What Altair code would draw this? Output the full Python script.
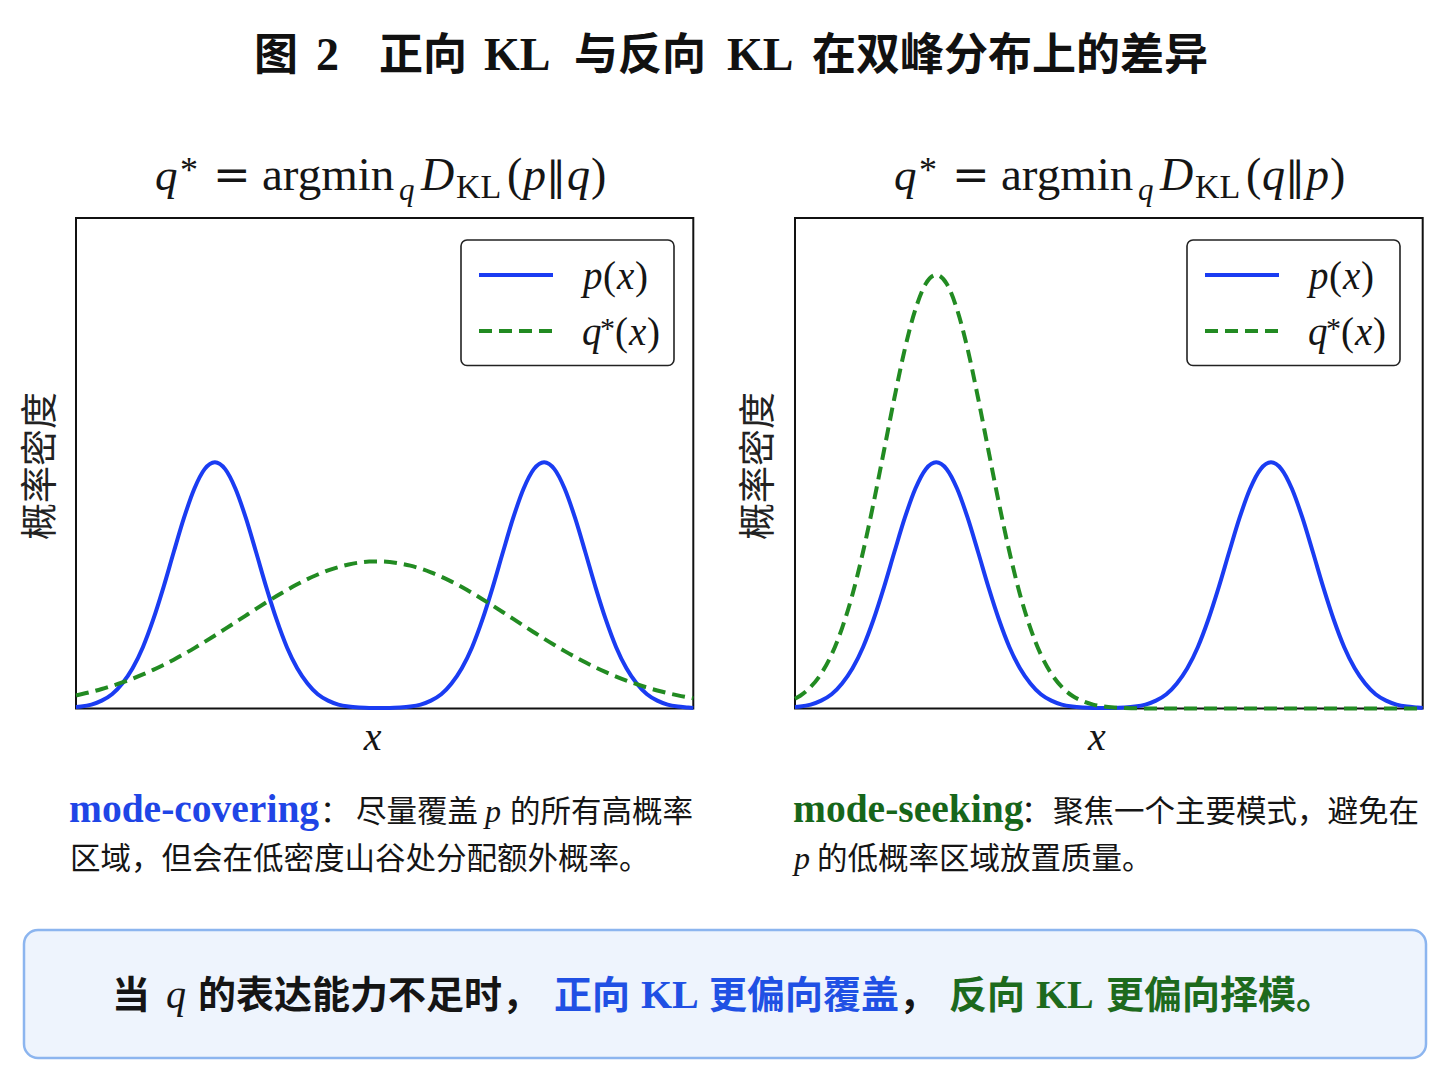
import altair as alt
import pandas as pd

# ---------------- data ----------------
x_grid = [-5.9, -5.8, -5.6, -5.4, -5.2, -5.0, -4.8, -4.6, -4.4, -4.2,
          -4.0, -3.8, -3.6, -3.4, -3.2, -3.0, -2.8, -2.6, -2.4, -2.2,
          -2.0, -1.8, -1.6, -1.4, -1.2, -1.0, -0.8, -0.6, -0.4, -0.2,
          0.0, 0.2, 0.4, 0.6, 0.8, 1.0, 1.2, 1.4, 1.6, 1.8,
          2.0, 2.2, 2.4, 2.6, 2.8, 3.0, 3.2, 3.4, 3.6, 3.8,
          4.0, 4.2, 4.4, 4.6, 4.8, 5.0, 5.2, 5.4, 5.6, 5.8,
          6.0, 6.1]

# bimodal target p(x)
p_density = [0.003, 0.004, 0.008, 0.016, 0.029, 0.051, 0.082, 0.125, 0.181, 0.247,
             0.319, 0.389, 0.448, 0.488, 0.502, 0.488, 0.448, 0.389, 0.319, 0.247,
             0.181, 0.125, 0.082, 0.051, 0.029, 0.016, 0.008, 0.004, 0.002, 0.001,
             0.001, 0.001, 0.002, 0.004, 0.008, 0.016, 0.029, 0.051, 0.082, 0.125,
             0.181, 0.247, 0.319, 0.389, 0.448, 0.488, 0.502, 0.488, 0.448, 0.389,
             0.319, 0.247, 0.181, 0.125, 0.082, 0.051, 0.029, 0.016, 0.008, 0.004,
             0.002, 0.001]

# forward KL fit (mode-covering)
q_forward = [0.0267, 0.0290, 0.0340, 0.0397, 0.0461, 0.0531, 0.0609, 0.0695, 0.0788, 0.0888,
             0.0996, 0.1111, 0.1231, 0.1358, 0.1488, 0.1622, 0.1758, 0.1895, 0.2031, 0.2164,
             0.2293, 0.2416, 0.2531, 0.2638, 0.2732, 0.2815, 0.2883, 0.2937, 0.2974, 0.2995,
             0.2999, 0.2987, 0.2957, 0.2912, 0.2851, 0.2775, 0.2686, 0.2586, 0.2475, 0.2355,
             0.2229, 0.2098, 0.1963, 0.1826, 0.1690, 0.1555, 0.1422, 0.1294, 0.1170, 0.1053,
             0.0941, 0.0837, 0.0740, 0.0651, 0.0569, 0.0495, 0.0428, 0.0368, 0.0314, 0.0267,
             0.0226, 0.0207]

# reverse KL fit (mode-seeking)
q_reverse = [0.020, 0.026, 0.044, 0.071, 0.110, 0.164, 0.233, 0.319, 0.418, 0.525,
             0.633, 0.733, 0.813, 0.866, 0.884, 0.866, 0.813, 0.733, 0.633, 0.525,
             0.418, 0.319, 0.233, 0.164, 0.110, 0.071, 0.044, 0.026, 0.015, 0.008,
             0.004, 0.002, 0.001, 0.0005, 0.0, 0.0, 0.0, 0.0, 0.0, 0.0,
             0.0, 0.0, 0.0, 0.0, 0.0, 0.0, 0.0, 0.0, 0.0, 0.0,
             0.0, 0.0, 0.0, 0.0, 0.0, 0.0, 0.0, 0.0, 0.0, 0.0,
             0.0, 0.0]

title_parts = ["图", "2", "正向", "KL", "与反向", "KL", "在双峰分布上的差异"]
y_label = "概率密度"
x_label = "x"
cap_left_key = "mode-covering"
cap_left_1 = ["：", "尽量覆盖", "p", "的所有高概率"]
cap_left_2 = "区域，但会在低密度山谷处分配额外概率。"
cap_right_key = "mode-seeking"
cap_right_1 = ["：", "聚焦一个主要模式，避免在"]
cap_right_2 = ["p", "的低概率区域放置质量。"]
box_parts = ["当", "q", "的表达能力不足时，", "正向", "KL", "更偏向覆盖", "，", "反向", "KL", "更偏向择模。"]

# ---------------- styles ----------------
BLUE = "#1a3cf2"
GREEN = "#228b22"
CAP_BLUE = "#1f45e6"
CAP_GREEN = "#17661a"
TXT = "#151515"
CJK = "Noto Sans CJK SC"
SERIF = "Liberation Serif"
SYM = "DejaVu Serif"
OFF = 8  # page margin
LW = 4.0

one = pd.DataFrame({"a": [1]})


def T(text, x, y, size, font=SERIF, weight="normal", style="normal", color=TXT,
      align="left", baseline="alphabetic", angle=0):
    return alt.Chart(one).mark_text(
        text=text, font=font, fontSize=size, fontWeight=weight, fontStyle=style,
        color=color, align=align, baseline=baseline, angle=angle
    ).encode(x=alt.value(x - OFF), y=alt.value(y - OFF))


def frame(x0, y0, x1, y1, **kw):
    return alt.Chart(one).mark_rect(**kw).encode(
        x=alt.value(x0 - OFF), x2=alt.value(x1 - OFF),
        y=alt.value(y0 - OFF), y2=alt.value(y1 - OFF))


def hline(x0, x1, y, **kw):
    return alt.Chart(one).mark_rule(**kw).encode(
        x=alt.value(x0 - OFF), x2=alt.value(x1 - OFF), y=alt.value(y - OFF))


layers = []

# ---------------- title ----------------
tx = [254, 316, 379, 484, 574, 727, 812]
for part, x in zip(title_parts, tx):
    if part in ("2", "KL"):
        layers.append(T(part, x, 70, 46, font=SERIF, weight="bold", color="#111"))
    else:
        layers.append(T(part, x, 70, 44, font=CJK, weight="bold", color="#111"))

# ---------------- panel geometry (page px) ----------------
panels = [
    dict(x0=76, x1=693.3, q=q_forward, sub1="p", sub2="q"),
    dict(x0=795, x1=1422.7, q=q_reverse, sub1="q", sub2="p"),
]
PY0, PY1 = 218, 708.5

for i, pn in enumerate(panels):
    df = pd.DataFrame({"x": x_grid, "p": p_density, "q": pn["q"]})
    xs = alt.Scale(domain=[-5.9, 6.1], range=[pn["x0"] - OFF, pn["x1"] - OFF])
    ys = alt.Scale(domain=[0, 1], range=[PY1 - OFF, PY0 - OFF])

    layers.append(frame(pn["x0"], PY0, pn["x1"], PY1, fill="white", fillOpacity=0,
                        stroke="#111", strokeWidth=2))
    layers.append(alt.Chart(df).mark_line(color=BLUE, strokeWidth=LW, interpolate="monotone")
                  .encode(x=alt.X("x:Q", scale=xs, axis=None),
                          y=alt.Y("p:Q", scale=ys, axis=None)))
    layers.append(alt.Chart(df).mark_line(color=GREEN, strokeWidth=LW, strokeDash=[13, 7],
                                          interpolate="monotone")
                  .encode(x=alt.X("x:Q", scale=xs, axis=None),
                          y=alt.Y("q:Q", scale=ys, axis=None)))

    dx = 0 if i == 0 else 726
    # legend
    layers.append(frame(461 + dx, 240, 674 + dx, 365.5, fill="white", stroke="#222",
                        strokeWidth=1.6, cornerRadius=6))
    layers.append(hline(479 + dx, 553 + dx, 275, color=BLUE, strokeWidth=LW))
    layers.append(hline(479 + dx, 553 + dx, 331, color=GREEN, strokeWidth=LW,
                        strokeDash=[13, 7]))
    layers.append(T("p", 583 + dx, 289, 39, style="italic"))
    layers.append(T("(", 603 + dx, 289, 39))
    layers.append(T("x", 617 + dx, 289, 39, style="italic"))
    layers.append(T(")", 635 + dx, 289, 39))
    layers.append(T("q", 582 + dx, 345, 39, style="italic"))
    layers.append(T("*", 600 + dx, 338, 30))
    layers.append(T("(", 615 + dx, 345, 39))
    layers.append(T("x", 629 + dx, 345, 39, style="italic"))
    layers.append(T(")", 647 + dx, 345, 39))

    # formula above panel
    sx = 155 if i == 0 else 894
    layers.append(T("q", sx, 190, 45, style="italic"))
    layers.append(T("*", sx + 25, 182, 36))
    layers.append(T("=", sx + 58, 190, 45, font=SYM))
    layers.append(T("argmin", sx + 107, 190, 47))
    layers.append(T("q", sx + 244, 200, 31, style="italic"))
    layers.append(T("D", sx + 266, 190, 46, style="italic"))
    layers.append(T("KL", sx + 301, 198, 34))
    layers.append(T("(", sx + 352, 190, 46))
    layers.append(T(pn["sub1"], sx + 368, 190, 46, style="italic"))
    layers.append(T("‖", sx + 391, 190, 40, font=SYM))
    layers.append(T(pn["sub2"], sx + 412, 190, 46, style="italic"))
    layers.append(T(")", sx + 436, 190, 46))

    # axis labels
    cx = (pn["x0"] + pn["x1"]) / 2 - 12
    layers.append(T(x_label, cx, 750, 40, style="italic", align="center"))
    ylx = 42 if i == 0 else 760
    layers.append(T(y_label, ylx, 466, 37, font=CJK, align="center", baseline="middle",
                    angle=270, color="#222"))

# ---------------- captions ----------------
CS = 30.5
layers.append(T(cap_left_key, 69, 822, 39.5, weight="bold", color=CAP_BLUE))
layers.append(T(cap_left_1[0], 320, 822, CS, font=CJK))
layers.append(T(cap_left_1[1], 356, 822, CS, font=CJK))
layers.append(T(cap_left_1[2], 485, 822, 32, style="italic"))
layers.append(T(cap_left_1[3], 510, 822, CS, font=CJK))
layers.append(T(cap_left_2, 70, 869, CS, font=CJK))

layers.append(T(cap_right_key, 793, 822, 39.5, weight="bold", color=CAP_GREEN))
layers.append(T(cap_right_1[0], 1021, 822, CS, font=CJK))
layers.append(T(cap_right_1[1], 1053, 822, CS, font=CJK))
layers.append(T(cap_right_2[0], 794, 869, 32, style="italic"))
layers.append(T(cap_right_2[1], 817, 869, CS, font=CJK))

# ---------------- bottom summary box ----------------
layers.append(frame(24, 930, 1426, 1058, fill="#eef4fd", stroke="#8cb5ef", strokeWidth=2.5,
                    cornerRadius=14))
BOX_BLUE = "#2050e4"
BOX_GREEN = "#1d6a1d"
by = 1008
box_x = [112, 166, 198, 554, 641, 709, 899, 949, 1036, 1106]
box_col = [TXT, TXT, TXT, BOX_BLUE, BOX_BLUE, BOX_BLUE, TXT, BOX_GREEN, BOX_GREEN, BOX_GREEN]
for part, x, c in zip(box_parts, box_x, box_col):
    if part == "q":
        layers.append(T(part, x, by, 40, style="italic", color=c))
    elif part == "KL":
        layers.append(T(part, x, by, 40, weight="bold", color=c))
    else:
        layers.append(T(part, x, by, 38, font=CJK, weight="bold", color=c))

chart = alt.layer(*layers).resolve_scale(
    x="independent", y="independent"
).properties(
    width=1432, height=1070, padding=0,
    autosize=alt.AutoSizeParams(type="none"),
    background="white",
).configure_view(stroke=None)

chart.save("out.html", embed_options={"renderer": "svg", "actions": False})
